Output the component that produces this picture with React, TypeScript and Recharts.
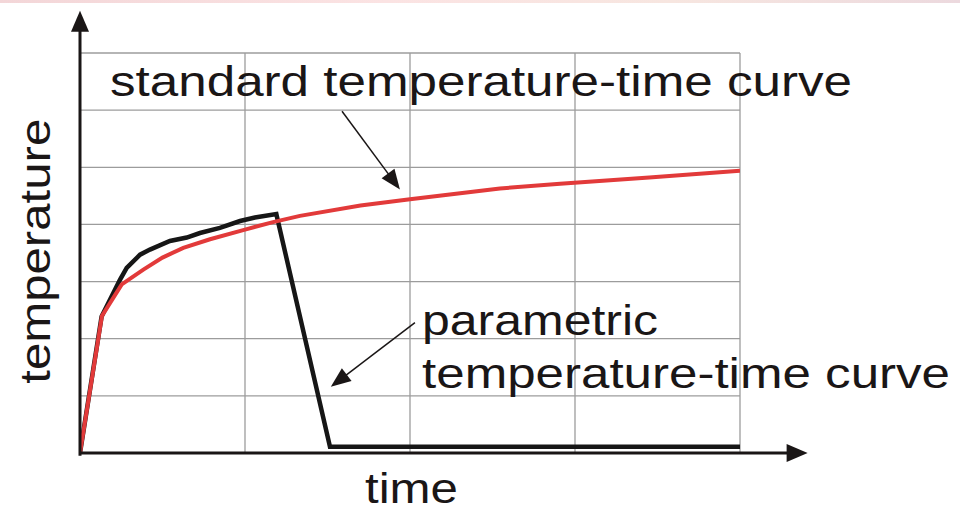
import {
  CartesianGrid,
  Line,
  LineChart,
  ReferenceDot,
  ReferenceLine,
  XAxis,
  YAxis,
} from "recharts";

// grid: 4 time columns, 7 temperature rows (no numbers shown)
const timeTicks = [0, 1, 2, 3, 4];
const tempTicks = [0, 1, 2, 3, 4, 5, 6, 7];

// standard (ISO-like) curve
const standardTime = [0, 0.133, 0.253, 0.384, 0.5, 0.626, 0.788, 1.0, 1.17, 1.333, 1.7, 2.0, 2.545, 2.91, 3.45, 4.0];
const standardTemp = [0, 2.4, 2.95, 3.21, 3.42, 3.59, 3.74, 3.91, 4.04, 4.15, 4.33, 4.44, 4.63, 4.71, 4.82, 4.94];

// parametric curve: heating, then linear cooling phase
const parametricTime = [0, 0.131, 0.242, 0.283, 0.364, 0.424, 0.545, 0.647, 0.727, 0.848, 0.97, 1.06, 1.19, 1.515, 4.0];
const parametricTemp = [0, 2.39, 3.03, 3.24, 3.47, 3.56, 3.71, 3.77, 3.85, 3.94, 4.06, 4.12, 4.18, 0.11, 0.11];

const standard = standardTime.map((x, i) => ({ x, y: standardTemp[i] }));
const parametric = parametricTime.map((x, i) => ({ x, y: parametricTemp[i] }));

const FONT = "'Liberation Sans', Arial, sans-serif";
const INK = "#1a1616";

type ArrowProps = { x1?: number; y1?: number; x2?: number; y2?: number };

// straight line with a filled arrow head at the end point
const arrow = (width: number, headLen: number, headHalf: number) =>
  function ArrowShape(p: ArrowProps) {
    const x1 = Number(p.x1), y1 = Number(p.y1), x2 = Number(p.x2), y2 = Number(p.y2);
    const len = Math.hypot(x2 - x1, y2 - y1) || 1;
    const ux = (x2 - x1) / len, uy = (y2 - y1) / len;
    const bx = x2 - ux * headLen, by = y2 - uy * headLen;
    const pts = [
      [x2, y2],
      [bx - uy * headHalf, by + ux * headHalf],
      [bx + uy * headHalf, by - ux * headHalf],
    ]
      .map((q) => q.join(","))
      .join(" ");
    return (
      <g>
        <line x1={x1} y1={y1} x2={bx + ux * 2} y2={by + uy * 2} stroke={INK} strokeWidth={width} />
        <polygon points={pts} fill={INK} />
      </g>
    );
  };

type TextProps = { cx?: number; cy?: number };

const label = (text: string, length: number, rotate = false) =>
  function LabelShape(p: TextProps) {
    return (
      <text
        x={p.cx}
        y={p.cy}
        fill={INK}
        fontFamily={FONT}
        fontSize={42}
        textLength={length}
        lengthAdjust="spacingAndGlyphs"
        textAnchor={rotate ? "middle" : "start"}
        transform={rotate ? `rotate(-90 ${p.cx} ${p.cy})` : undefined}
      >
        {text}
      </text>
    );
  };

export default function App() {
  return (
    <div style={{ position: "fixed", left: 0, top: 0, width: 960, height: 512, background: "#fff" }}>
      <div
        style={{
          position: "absolute",
          left: 0,
          top: 0,
          width: 960,
          height: 3,
          background: "linear-gradient(90deg, #f3d6d8, #fbe3e3 40%, #f7e6e0 70%, #ecd9de)",
        }}
      />
      <LineChart width={960} height={512} margin={{ top: 53, right: 220, bottom: 59, left: 80 }}>
        <XAxis type="number" dataKey="x" domain={[0, 4]} ticks={timeTicks} hide allowDataOverflow />
        <YAxis type="number" dataKey="y" domain={[0, 7]} ticks={tempTicks} hide allowDataOverflow />
        <CartesianGrid stroke="#9c9c9c" strokeWidth={1.3} />

        <Line data={parametric} dataKey="y" type="linear" stroke="#161616" strokeWidth={4.5} dot={false} isAnimationActive={false} />
        <Line data={standard} dataKey="y" type="linear" stroke="#e23a3a" strokeWidth={4} dot={false} isAnimationActive={false} />

        {/* axes with arrow heads */}
        <ReferenceLine
          segment={[{ x: 0, y: 0 }, { x: 4.41, y: 0 }]}
          ifOverflow="visible"
          shape={arrow(3, 21, 9)}
        />
        <ReferenceLine
          segment={[{ x: 0, y: -0.05 }, { x: 0, y: 7.74 }]}
          ifOverflow="visible"
          shape={arrow(3, 21, 9)}
        />

        {/* annotation arrows */}
        <ReferenceLine
          segment={[{ x: 1.588, y: 5.98 }, { x: 1.939, y: 4.61 }]}
          ifOverflow="visible"
          shape={arrow(1.5, 20, 8)}
        />
        <ReferenceLine
          segment={[{ x: 2.03, y: 2.28 }, { x: 1.52, y: 1.16 }]}
          ifOverflow="visible"
          shape={arrow(1.5, 20, 8)}
        />

        {/* texts */}
        <ReferenceDot x={0.182} y={6.246} r={0} ifOverflow="visible" shape={label("standard temperature-time curve", 742)} />
        <ReferenceDot x={2.073} y={2.07} r={0} ifOverflow="visible" shape={label("parametric", 236)} />
        <ReferenceDot x={2.073} y={1.14} r={0} ifOverflow="visible" shape={label("temperature-time curve", 528)} />
        <ReferenceDot x={1.727} y={-0.877} r={0} ifOverflow="visible" shape={label("time", 93)} />
        <ReferenceDot x={-0.182} y={3.53} r={0} ifOverflow="visible" shape={label("temperature", 265, true)} />
      </LineChart>
    </div>
  );
}
